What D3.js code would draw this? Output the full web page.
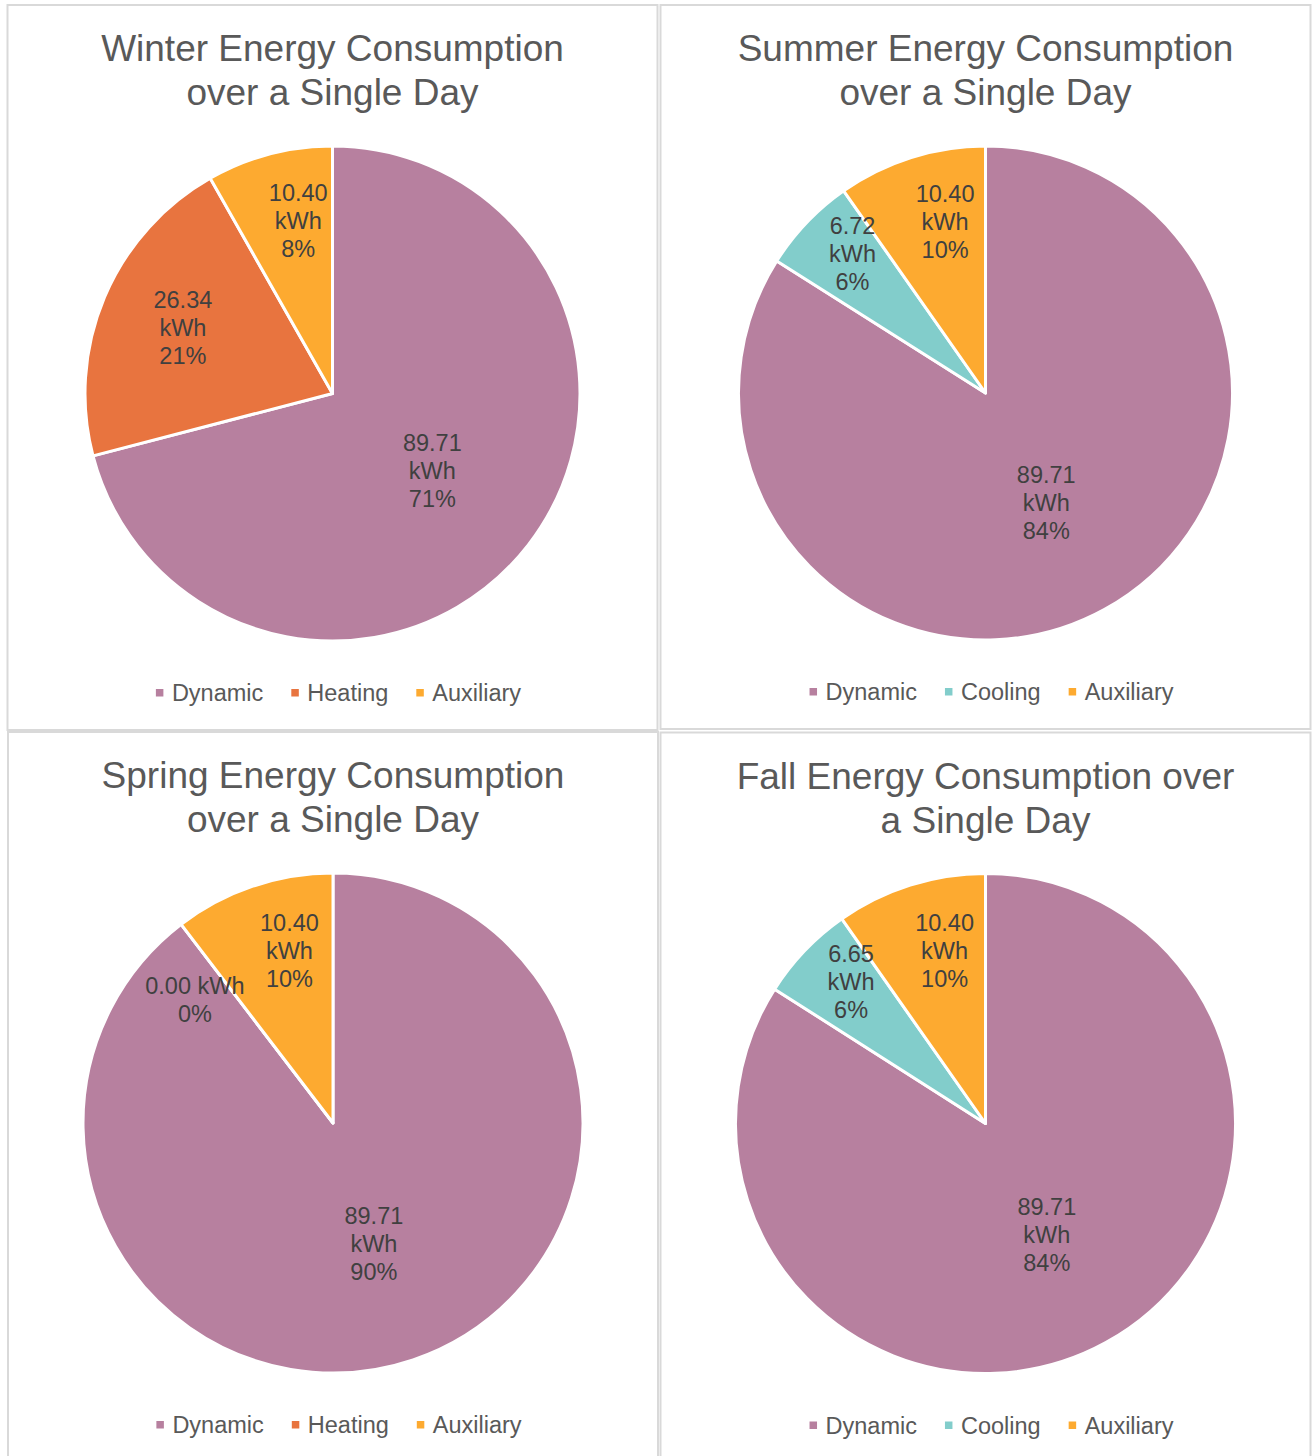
<!DOCTYPE html>
<html>
<head>
<meta charset="utf-8">
<script src="https://cdn.jsdelivr.net/npm/d3@7"></script>
<style>
  body { margin: 0; background: #fff; }
  svg { display: block; font-family: "Liberation Sans", Arial, sans-serif; }
</style>
</head>
<body>
<svg id="chart" width="1312" height="1456"></svg>
<script>
// data
var winterTitle = ["Winter Energy Consumption", "over a Single Day"];
var summerTitle = ["Summer Energy Consumption", "over a Single Day"];
var springTitle = ["Spring Energy Consumption", "over a Single Day"];
var fallTitle = ["Fall Energy Consumption over", "a Single Day"];

var heatCategories = ["Dynamic", "Heating", "Auxiliary"];
var coolCategories = ["Dynamic", "Cooling", "Auxiliary"];

var winterValues = [89.71, 26.34, 10.40];
var summerValues = [89.71, 6.72, 10.40];
var springValues = [89.71, 0.00, 10.40];
var fallValues = [89.71, 6.65, 10.40];

var colors = {
  Dynamic: "#b7809f",
  Heating: "#e8743f",
  Cooling: "#82cdcb",
  Auxiliary: "#fdaa30"
};

// panel boxes (layout only)
var panels = [
  { title: winterTitle, cats: heatCategories, values: winterValues, x: 7.5, y: 5, w: 650, h: 725 },
  { title: summerTitle, cats: coolCategories, values: summerValues, x: 660.5, y: 5, w: 650, h: 724 },
  { title: springTitle, cats: heatCategories, values: springValues, x: 8, y: 732, w: 650, h: 730 },
  { title: fallTitle, cats: coolCategories, values: fallValues, x: 660.5, y: 732.5, w: 650, h: 730 }
];

var svg = d3.select("#chart");
var fmtVal = d3.format(".2f");
var fmtPct = d3.format(".0%");

panels.forEach(function (p) {
  var g = svg.append("g");

  g.append("rect")
    .attr("x", p.x).attr("y", p.y)
    .attr("width", p.w).attr("height", p.h)
    .attr("fill", "#fff")
    .attr("stroke", "#d9d9d9")
    .attr("stroke-width", 2);

  var cx = p.x + p.w / 2;

  // title
  g.selectAll(".title")
    .data(p.title)
    .enter()
    .append("text")
    .attr("class", "title")
    .attr("x", cx)
    .attr("y", (d, i) => p.y + 56 + i * 44)
    .attr("text-anchor", "middle")
    .attr("fill", "#595959")
    .style("font-size", "37px")
    .text(d => d);

  // pie
  var r = (p.h - 230) / 2;
  var cy = p.y + 141 + r;
  var total = d3.sum(p.values);

  var pie = d3.pie().sort(null).value(d => d.value);
  var arcs = pie(p.cats.map((c, i) => ({ cat: c, value: p.values[i] })));
  var arc = d3.arc().innerRadius(0).outerRadius(r);

  var pg = g.append("g").attr("transform", `translate(${cx},${cy})`);

  pg.selectAll("path")
    .data(arcs)
    .enter()
    .append("path")
    .attr("d", arc)
    .attr("fill", d => colors[d.data.cat])
    .attr("stroke", "#fff")
    .attr("stroke-width", 3)
    .attr("stroke-linejoin", "round");

  // data labels (rough imitation of excel "best fit")
  arcs.forEach(function (d) {
    var share = d.data.value / total;
    var f, t;
    if (share >= 0.5) { f = 0.51; t = 0.5; }
    else if (share >= 0.15) { f = 0.66; t = 0.51; }
    else if (share >= 0.08) { f = 0.71; t = 0.62; }
    else { f = 0.78; t = 0.62; }
    var a = d.startAngle + (d.endAngle - d.startAngle) * t;
    if (d.data.value === 0) { a -= 0.19; f = 0.74; }
    var lx = Math.sin(a) * r * f;
    var ly = -Math.cos(a) * r * f;
    var lines = d.data.value === 0
      ? [fmtVal(d.data.value) + " kWh", fmtPct(share)]
      : [fmtVal(d.data.value), "kWh", fmtPct(share)];
    var off = (lines.length - 1) / 2;
    pg.selectAll(null)
      .data(lines)
      .enter()
      .append("text")
      .attr("x", lx)
      .attr("y", (s, i) => ly + (i - off) * 28 + 8)
      .attr("text-anchor", "middle")
      .attr("fill", "#404040")
      .style("font-size", "23.5px")
      .text(s => s);
  });

  // legend
  var lg = g.append("g");
  var xpos = 0;
  p.cats.forEach(function (c) {
    var item = lg.append("g").attr("transform", `translate(${xpos},0)`);
    item.append("rect")
      .attr("x", 0).attr("y", -12)
      .attr("width", 7.5).attr("height", 7.5)
      .attr("fill", colors[c]);
    var txt = item.append("text")
      .attr("x", 16)
      .attr("y", 0)
      .attr("fill", "#595959")
      .style("font-size", "23.5px")
      .text(c);
    xpos += 16 + txt.node().getComputedTextLength() + 28;
  });
  var lw = xpos - 28;
  lg.attr("transform", `translate(${cx - lw / 2 + 6},${p.y + p.h - 29})`);
});
</script>
</body>
</html>
